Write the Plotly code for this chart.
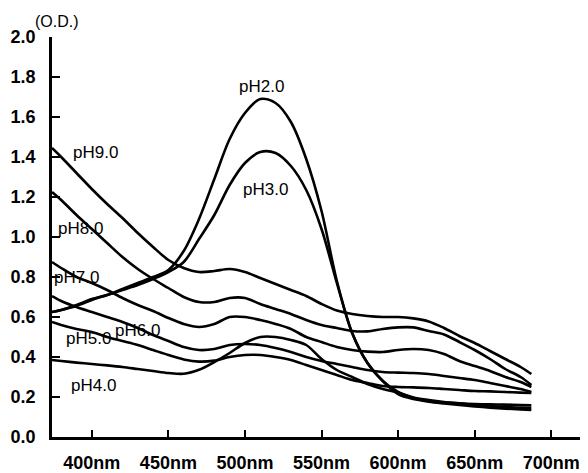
import plotly.graph_objects as go

wavelength = [374, 380, 390, 400, 410, 420, 430, 440, 450, 460, 470, 480, 490, 500,
              510, 520, 530, 540, 550, 560, 570, 580, 590, 600, 610, 620, 630, 640,
              650, 660, 670, 680, 687]

ph2 = [0.625, 0.635, 0.66, 0.69, 0.71, 0.74, 0.77, 0.80, 0.835, 0.93, 1.09, 1.29, 1.49, 1.62,
       1.69, 1.67, 1.575, 1.39, 1.13, 0.78, 0.52, 0.37, 0.28, 0.215, 0.19, 0.177, 0.168, 0.16,
       0.153, 0.147, 0.142, 0.138, 0.135]
ph3 = [0.625, 0.635, 0.655, 0.685, 0.71, 0.735, 0.76, 0.79, 0.825, 0.875, 0.99, 1.11, 1.26, 1.37,
       1.425, 1.42, 1.355, 1.235, 1.04, 0.77, 0.52, 0.37, 0.28, 0.225, 0.198, 0.185, 0.175, 0.168,
       0.16, 0.155, 0.15, 0.147, 0.145]
ph4 = [0.385, 0.38, 0.372, 0.365, 0.358, 0.35, 0.34, 0.33, 0.32, 0.316, 0.336, 0.375, 0.42, 0.47,
       0.50, 0.50, 0.485, 0.46, 0.39, 0.335, 0.30, 0.265, 0.24, 0.222, 0.195, 0.18, 0.172, 0.168,
       0.165, 0.163, 0.162, 0.16, 0.158]
ph5 = [0.575, 0.56, 0.54, 0.525, 0.50, 0.48, 0.46, 0.435, 0.41, 0.388, 0.377, 0.382, 0.40, 0.41,
       0.41, 0.40, 0.385, 0.36, 0.335, 0.31, 0.285, 0.27, 0.255, 0.25, 0.248, 0.245, 0.24, 0.235,
       0.23, 0.228, 0.225, 0.222, 0.22]
ph6 = [0.705, 0.68, 0.65, 0.625, 0.60, 0.575, 0.545, 0.51, 0.48, 0.45, 0.435, 0.44, 0.46, 0.465,
       0.46, 0.445, 0.425, 0.40, 0.38, 0.365, 0.35, 0.335, 0.325, 0.322, 0.32, 0.315, 0.305, 0.295,
       0.285, 0.27, 0.255, 0.24, 0.225]
ph7 = [0.875, 0.845, 0.80, 0.77, 0.735, 0.695, 0.66, 0.63, 0.595, 0.565, 0.55, 0.565, 0.60, 0.60,
       0.585, 0.565, 0.54, 0.50, 0.475, 0.45, 0.435, 0.427, 0.425, 0.435, 0.44, 0.435, 0.415, 0.38,
       0.355, 0.33, 0.30, 0.275, 0.25]
ph8 = [1.225, 1.185, 1.11, 1.04, 0.97, 0.90, 0.84, 0.79, 0.745, 0.70, 0.675, 0.675, 0.695, 0.695,
       0.665, 0.64, 0.615, 0.585, 0.56, 0.545, 0.53, 0.528, 0.54, 0.548, 0.548, 0.53, 0.513, 0.475,
       0.435, 0.39, 0.34, 0.30, 0.26]
ph9 = [1.445, 1.40, 1.32, 1.24, 1.165, 1.095, 1.02, 0.95, 0.885, 0.845, 0.825, 0.83, 0.84, 0.825,
       0.795, 0.765, 0.735, 0.705, 0.665, 0.632, 0.615, 0.605, 0.60, 0.60, 0.593, 0.578, 0.545, 0.505,
       0.47, 0.43, 0.39, 0.35, 0.315]

series = [ph2, ph3, ph4, ph5, ph6, ph7, ph8, ph9]

labels = ["pH2.0", "pH3.0", "pH4.0", "pH5.0", "pH6.0", "pH7.0", "pH8.0", "pH9.0"]
label_x = [511.1, 513.7, 401.3, 398.0, 430.1, 390.2, 392.8, 402.6]
label_y = [1.755, 1.24, 0.26, 0.495, 0.535, 0.80, 1.045, 1.425]

x_tickvals = [400, 450, 500, 550, 600, 650, 700]
x_ticktext = ["400nm", "450nm", "500nm", "550nm", "600nm", "650nm", "700nm"]
y_tickvals = [0.0, 0.2, 0.4, 0.6, 0.8, 1.0, 1.2, 1.4, 1.6, 1.8, 2.0]
y_ticktext = ["0.0", "0.2", "0.4", "0.6", "0.8", "1.0", "1.2", "1.4", "1.6", "1.8", "2.0"]
y_unit = "(O.D.)"

FONT = "Liberation Sans, Arial, sans-serif"

fig = go.Figure()
for name, vals in zip(labels, series):
    fig.add_trace(go.Scatter(x=wavelength, y=vals, mode="lines", name=name,
                             line=dict(color="black", width=2.6, shape="spline", smoothing=0.9),
                             showlegend=False, hoverinfo="skip"))

for t, lx, ly in zip(labels, label_x, label_y):
    fig.add_annotation(x=lx, y=ly, text=t, showarrow=False, xref="x", yref="y",
                       font=dict(family=FONT, size=17, color="black"))

# page body has an 8px margin: figure placed at (8,8)
fig.add_annotation(x=0.0093, y=1.0375, text=y_unit, showarrow=False, xref="paper", yref="paper",
                   xanchor="center", yanchor="middle",
                   font=dict(family=FONT, size=16, color="black"))

fig.update_layout(
    width=580, height=465,
    margin=dict(l=44, r=0, t=29, b=36),
    paper_bgcolor="white", plot_bgcolor="white",
    xaxis=dict(range=[374, 724], showgrid=False, zeroline=False, showline=True,
               linecolor="black", linewidth=2.5, ticks="inside", ticklen=7, tickwidth=2,
               tickcolor="black", tickvals=x_tickvals, ticktext=x_ticktext,
               tickfont=dict(family=FONT, size=18, color="black", weight="bold"),
               ticklabelstandoff=8, automargin=False),
    yaxis=dict(range=[0, 2.0], showgrid=False, zeroline=False, showline=True,
               linecolor="black", linewidth=2.5, ticks="inside", ticklen=8, tickwidth=2,
               tickcolor="black", tickvals=y_tickvals, ticktext=y_ticktext,
               tickfont=dict(family=FONT, size=18, color="black", weight="bold"),
               ticklabelstandoff=10, automargin=False),
)

fig.write_html("out.html")
